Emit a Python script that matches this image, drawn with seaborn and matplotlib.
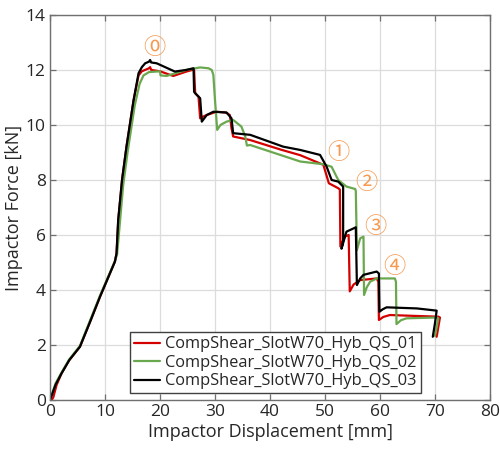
import matplotlib
matplotlib.use("Agg")
import matplotlib.pyplot as plt
import seaborn as sns
import pandas as pd

labels = ["CompShear_SlotW70_Hyb_QS_01", "CompShear_SlotW70_Hyb_QS_02", "CompShear_SlotW70_Hyb_QS_03"]

red_x = [0.3, 0.6, 1.2, 2.1, 3.5, 5.45, 7.3, 9.1, 11.8, 12.1, 12.4, 13.1, 13.9, 15.2, 16.1, 16.7, 17.3, 18.0, 18.2, 18.4, 20.0,
         22.4, 24.8, 25.9, 26.2, 26.4, 27.0, 27.3, 27.8, 28.5, 30.3, 32.0, 32.7, 33.0, 33.3, 36.4, 42.0, 45.5, 49.7, 50.7, 52.4,
         52.7, 52.8, 53.6, 54.3, 54.5, 55.2, 56.4, 59.4, 59.7, 59.8, 60.6, 61.8, 66.0, 70.6, 70.9, 70.3]
red_y = [0.0, 0.1, 0.55, 0.97, 1.45, 1.94, 2.85, 3.76, 5.03, 5.33, 6.5, 8.0, 9.2, 10.9, 11.8, 11.95, 12.0, 12.06, 12.1, 12.0, 11.95,
         11.78, 11.94, 12.0, 12.0, 11.15, 11.03, 10.24, 10.3, 10.36, 10.48, 10.45, 10.36, 9.88, 9.58, 9.45, 9.1, 8.9, 8.55, 7.88, 7.7,
         7.65, 5.58, 5.94, 6.0, 3.95, 4.2, 4.36, 4.42, 4.3, 2.91, 3.02, 3.09, 3.06, 3.03, 3.0, 2.3]

green_x = [0.0, 1.0, 2.1, 3.5, 5.45, 7.3, 9.1, 11.8, 12.2, 12.6, 13.3, 14.1, 15.4, 16.3, 17.0, 18.0, 20.0, 20.1, 21.2, 24.8,
           27.3, 28.8, 29.4, 29.7, 30.0, 30.4, 31.0, 32.1, 33.3, 34.8, 35.5, 35.8, 36.4, 45.5, 49.7, 51.2, 52.4, 53.9, 55.5,
           55.6, 55.8, 56.4, 57.0, 57.1, 57.6, 58.2, 59.4, 62.7, 62.9, 63.0, 63.8, 64.8, 70.3, 70.6, 70.0]
green_y = [0.0, 0.6, 1.0, 1.48, 1.97, 2.9, 3.8, 5.05, 5.3, 6.2, 7.8, 9.0, 10.7, 11.5, 11.8, 11.92, 11.95, 11.8, 11.78, 12.0,
           12.09, 12.06, 12.0, 11.82, 10.9, 9.82, 10.0, 10.12, 10.18, 9.94, 9.58, 9.25, 9.27, 8.67, 8.57, 8.48, 8.0, 7.76, 7.67,
           7.6, 5.45, 5.88, 5.94, 3.82, 4.1, 4.3, 4.42, 4.42, 4.3, 2.76, 2.9, 2.97, 3.0, 2.97, 2.33]

black_x = [0.0, 1.0, 2.1, 3.5, 5.45, 7.3, 9.1, 11.8, 12.1, 12.4, 13.1, 13.9, 15.2, 16.1, 16.7, 17.3, 18.0, 18.2, 18.4, 19.4,
           22.7, 24.8, 26.1, 26.2, 26.7, 27.3, 27.6, 28.5, 29.7, 32.1, 33.0, 33.3, 36.4, 42.4, 45.5, 49.1, 50.3, 51.2, 52.4,
           53.3, 53.3, 53.0, 53.9, 55.2, 55.6, 55.8, 56.4, 57.0, 59.4, 59.8, 59.9, 60.5, 61.2, 66.7, 70.3, 70.0, 69.6]
black_y = [0.0, 0.55, 0.97, 1.45, 1.94, 2.85, 3.76, 5.03, 5.33, 6.55, 8.0, 9.2, 10.9, 11.88, 12.1, 12.24, 12.3, 12.36, 12.27, 12.24,
           11.94, 12.0, 12.06, 11.2, 11.09, 10.97, 10.12, 10.36, 10.48, 10.45, 10.24, 9.7, 9.64, 9.21, 9.09, 8.91, 8.48, 8.0, 7.94,
           7.76, 5.8, 5.5, 6.12, 6.24, 6.28, 4.18, 4.42, 4.55, 4.67, 4.6, 3.21, 3.3, 3.37, 3.33, 3.25, 2.8, 2.3]

marker_text = ["\u24ea", "\u2460", "\u2461", "\u2462", "\u2463"]
marker_x = [18.9, 52.5, 57.5, 59.1, 62.7]
marker_y = [12.8, 8.98, 7.9, 6.3, 4.87]

x_ticks = [0, 10, 20, 30, 40, 50, 60, 70, 80]
y_ticks = [0, 2, 4, 6, 8, 10, 12, 14]

frames = []
for lab, xs, ys in zip(labels, [red_x, green_x, black_x], [red_y, green_y, black_y]):
    frames.append(pd.DataFrame({"x": xs, "y": ys, "series": lab}))
df = pd.concat(frames, ignore_index=True)

sns.set_theme(style="whitegrid")
plt.rcParams["font.family"] = ["Open Sans", "DejaVu Sans"]

fig = plt.figure(figsize=(5.0, 4.51), dpi=100)
ax = fig.add_axes([0.1, 0.113, 0.88, 0.854])

palette = {labels[0]: "#d40000", labels[1]: "#6aa84f", labels[2]: "#000000"}
sns.lineplot(data=df, x="x", y="y", hue="series", palette=palette, estimator=None,
             sort=False, units="series", linewidth=1.6, ax=ax, legend=True)

ax.set_xlim(0, 80)
ax.set_ylim(0, 14)
ax.set_xticks(x_ticks)
ax.set_yticks(y_ticks)
ax.grid(True, color="#dcdcdc", linewidth=0.9)
for s in ax.spines.values():
    s.set_visible(True)
    s.set_color("#707070")
    s.set_linewidth(1.0)
ax.tick_params(direction="in", length=4, width=0.9, color="#707070", top=True, right=True,
               bottom=True, left=True, labelsize=12.5, labelcolor="#262626", pad=3)
ax.set_xlabel("Impactor Displacement [mm]", fontsize=13, color="#262626", labelpad=2)
ax.set_ylabel("Impactor Force [kN]", fontsize=13, color="#262626", labelpad=2)

for t, xx, yy in zip(marker_text, marker_x, marker_y):
    ax.text(xx, yy, t, ha="center", va="center", fontsize=16, color="#f59a50",
            family=["Noto Sans CJK JP", "DejaVu Sans"])

leg = ax.legend(loc="lower left", bbox_to_anchor=(0.182, 0.017), fontsize=11.8, frameon=True,
                fancybox=False, framealpha=1, edgecolor="#404040", handlelength=1.6,
                handletextpad=0.3, borderpad=0.25, labelspacing=0.15, borderaxespad=0)
leg.get_frame().set_linewidth(1.0)
for t in leg.get_texts():
    t.set_color("#262626")

fig.savefig("out.png", dpi=100)
